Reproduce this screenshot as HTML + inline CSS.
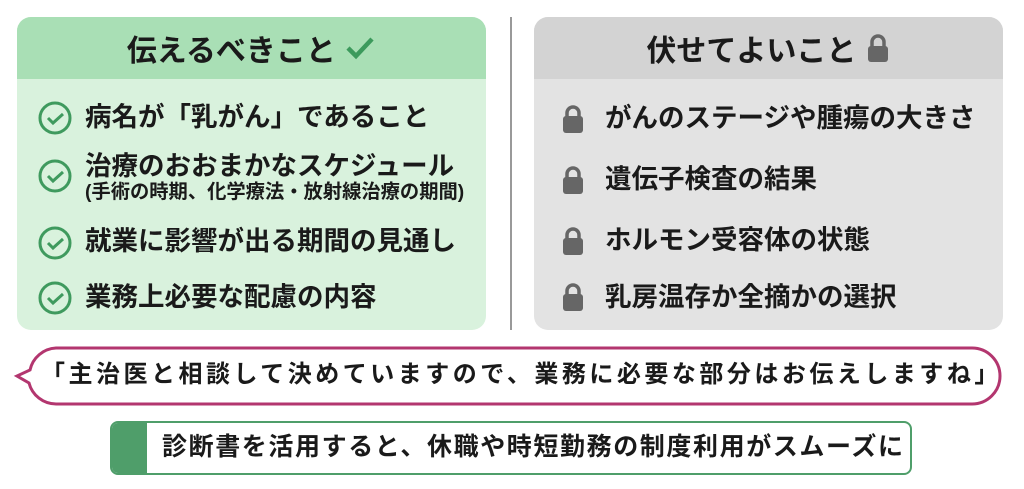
<!DOCTYPE html>
<html><head><meta charset="utf-8"><style>
*{margin:0;padding:0;box-sizing:border-box}
body{width:1024px;height:489px;background:#fff;position:relative;overflow:hidden;font-family:"Liberation Sans","Noto Sans CJK JP",sans-serif;font-weight:bold;color:#1a1a1a}
.card{position:absolute;top:17px;width:469px;height:313px;border-radius:14px;overflow:hidden}
.hd{height:62px;display:flex;align-items:center;justify-content:center;font-size:30px}
.t{position:absolute;white-space:nowrap;font-size:26.5px;line-height:1}
.ic{position:absolute}
</style></head><body>
<div class="card" style="left:17px;background:#d9f2dd">
 <div class="hd" style="background:#a9dfb5">伝えるべきこと&nbsp;<svg width="32" height="26" viewBox="0 0 32 26"><path d="M4 13 L12 21 L28 4" fill="none" stroke="#3c9a5c" stroke-width="4.5"/></svg></div>
</div>
<div class="card" style="left:534px;background:#e3e3e3">
 <div class="hd" style="background:#d3d3d3">伏せてよいこと&nbsp;<svg width="26" height="30" viewBox="0 0 26 30"><path d="M7 14 V9 a6 6 0 0 1 12 0 V14" fill="none" stroke="#666" stroke-width="3.5"/><rect x="3" y="13" width="20" height="16" rx="3" fill="#666"/></svg></div>
</div>
<div style="position:absolute;left:510px;top:17px;width:2px;height:313px;background:#999"></div>

<svg class="ic" style="left:0;top:0" width="100" height="330">
<g fill="none" stroke="#3f9a5e" stroke-width="3">
<circle cx="55" cy="118" r="15"/><path d="M48 118 l5 5 l10 -9"/>
<circle cx="55" cy="176" r="15"/><path d="M48 176 l5 5 l10 -9"/>
<circle cx="55" cy="243" r="15"/><path d="M48 243 l5 5 l10 -9"/>
<circle cx="55" cy="298" r="15"/><path d="M48 298 l5 5 l10 -9"/>
</g></svg>
<div class="t" style="left:85px;top:104px">病名が「乳がん」であること</div>
<div class="t" style="left:85px;top:153px">治療のおおまかなスケジュール</div>
<div class="t" style="left:85px;top:183px;font-size:19.3px">(手術の時期、化学療法・放射線治療の期間)</div>
<div class="t" style="left:85px;top:228px">就業に影響が出る期間の見通し</div>
<div class="t" style="left:85px;top:284px">業務上必要な配慮の内容</div>

<svg class="ic" style="left:0;top:0" width="600" height="330">
<g fill="#666"><g transform="translate(560,104)"><path d="M7 13 V9 a6 6 0 0 1 12 0 V13" fill="none" stroke="#666" stroke-width="3.5"/><rect x="3" y="12" width="20" height="17" rx="3"/></g>
<g transform="translate(560,165)"><path d="M7 13 V9 a6 6 0 0 1 12 0 V13" fill="none" stroke="#666" stroke-width="3.5"/><rect x="3" y="12" width="20" height="17" rx="3"/></g>
<g transform="translate(560,226)"><path d="M7 13 V9 a6 6 0 0 1 12 0 V13" fill="none" stroke="#666" stroke-width="3.5"/><rect x="3" y="12" width="20" height="17" rx="3"/></g>
<g transform="translate(560,282)"><path d="M7 13 V9 a6 6 0 0 1 12 0 V13" fill="none" stroke="#666" stroke-width="3.5"/><rect x="3" y="12" width="20" height="17" rx="3"/></g></g></svg>
<div class="t" style="left:605px;top:105px">がんのステージや腫瘍の大きさ</div>
<div class="t" style="left:605px;top:166px">遺伝子検査の結果</div>
<div class="t" style="left:605px;top:227px">ホルモン受容体の状態</div>
<div class="t" style="left:605px;top:284px">乳房温存か全摘かの選択</div>

<svg class="ic" style="left:0;top:340px" width="1024" height="75">
<path d="M56 8 H972 a28 28 0 0 1 0 56 H56 a28 28 0 0 1 -27 -21 L17 36 L30 30 A28 28 0 0 1 56 8 Z" fill="#fff" stroke="#b3366f" stroke-width="3"/>
</svg>
<div class="t" style="left:41px;top:363px;font-size:24px;letter-spacing:3.5px">「主治医と相談して決めていますので、業務に必要な部分はお伝えしますね」</div>

<div style="position:absolute;left:110px;top:421px;width:802px;height:54px;border:2px solid #4f9e6a;border-radius:8px;overflow:hidden;background:#fff">
 <div style="position:absolute;left:0;top:0;width:35px;height:100%;background:#4f9e6a"></div>
</div>
<div class="t" style="left:162px;top:435px;font-size:25px;letter-spacing:1.6px">診断書を活用すると、休職や時短勤務の制度利用がスムーズに</div>
</body></html>
